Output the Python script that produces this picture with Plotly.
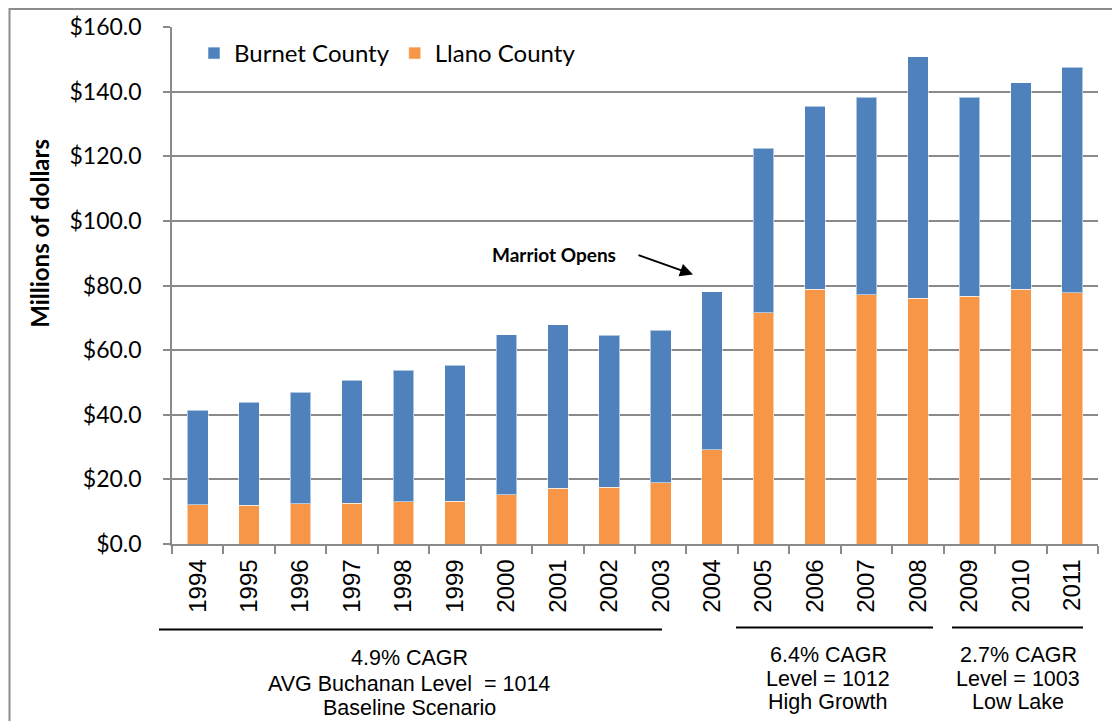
import plotly.graph_objects as go

# Annual values, millions of dollars
years = [str(y) for y in range(1994, 2012)]
llano = [12.2, 12.0, 12.4, 12.6, 13.0, 13.3, 15.2, 17.2, 17.5, 19.0,
         29.1, 71.5, 78.8, 77.2, 76.0, 76.6, 78.9, 77.7]
burnet = [29.2, 31.8, 34.5, 38.1, 40.7, 42.0, 49.5, 50.7, 47.1, 47.1,
          49.0, 50.9, 56.6, 61.0, 74.8, 61.6, 63.8, 69.9]

y_ticks = [0, 20, 40, 60, 80, 100, 120, 140, 160]

# Period notes below the axis: (first px, last px, centre px, line centres px, lines)
periods = [
    (159, 662, 409, [659, 685, 709],
     ["4.9% CAGR", "AVG Buchanan Level  = 1014", "Baseline Scenario"]),
    (736, 933, 828, [656, 680, 703],
     ["6.4% CAGR", "Level = 1012", "High Growth"]),
    (952, 1083, 1018, [656, 680, 703],
     ["2.7% CAGR", "Level = 1003", "Low Lake"]),
]

BLUE = "#4F81BD"
ORANGE = "#F79646"
GRID = "#8a8a8a"
CAL = "Lato, 'Open Sans', sans-serif"
ARIAL = "'Liberation Sans', Arial, sans-serif"

W, H = 1112, 721
L, R, T, B = 172, 14, 24, 177
PW, PH = W - L - R, H - T - B


def px(x):
    return (x - L) / PW


def py(y):
    return (H - B - y) / PH


fig = go.Figure()
fig.add_trace(go.Bar(x=years, y=llano, name="Llano County", marker_color=ORANGE,
                     marker_line=dict(color="rgba(255,255,255,0.55)", width=1),
                     legendrank=2))
fig.add_trace(go.Bar(x=years, y=burnet, name="Burnet County", marker_color=BLUE,
                     marker_line=dict(color="rgba(255,255,255,0.55)", width=1),
                     legendrank=1))

shapes = [
    # outer chart frame
    dict(type="rect", xref="paper", yref="paper",
         x0=px(9.5), x1=px(1120), y0=py(730), y1=py(6),
         line=dict(color="#8c8c8c", width=2), layer="below"),
]
annotations = [
    dict(text="<b>Millions of dollars</b>", textangle=-90, xref="paper", yref="paper",
         x=px(40), y=py(232), xanchor="center", yanchor="middle", showarrow=False,
         font=dict(family=CAL, size=24, color="black")),
    dict(text="<b>Marriot Opens</b>", xref="paper", yref="paper", x=px(554), y=py(253),
         xanchor="center", yanchor="middle", showarrow=False,
         font=dict(family=CAL, size=19, color="black")),
    dict(text="", xref="paper", yref="paper", x=px(693), y=py(273),
         ax=-56, ay=-20, showarrow=True, arrowhead=2, arrowsize=1.3, arrowwidth=2,
         arrowcolor="black"),
]
for x0, x1, xc, ys, lines in periods:
    yl = 630 if x0 < 300 else 628
    shapes.append(dict(type="line", xref="paper", yref="paper",
                       x0=px(x0), x1=px(x1), y0=py(yl), y1=py(yl),
                       line=dict(color="black", width=2)))
    for yc, line in zip(ys, lines):
        annotations.append(dict(text=line, xref="paper", yref="paper",
                                x=px(xc), y=py(yc), xanchor="center", yanchor="middle",
                                showarrow=False,
                                font=dict(family=ARIAL, size=21.5, color="black")))

fig.update_layout(
    width=W, height=H,
    margin=dict(l=L, r=R, t=T, b=B, pad=0),
    paper_bgcolor="white", plot_bgcolor="white",
    barmode="stack", bargap=0.6,
    showlegend=True,
    legend=dict(orientation="h", x=px(194), y=py(28), xanchor="left", yanchor="top",
                traceorder="normal",
                font=dict(family=CAL, size=24, color="black"),
                bgcolor="rgba(0,0,0,0)", itemwidth=30),
    shapes=shapes,
    annotations=annotations,
    xaxis=dict(type="category", tickangle=-90, tickson="boundaries",
               ticks="outside", ticklen=8, tickcolor=GRID, tickwidth=1.5,
               showline=True, linecolor=GRID, linewidth=1.5,
               showgrid=False, ticklabelstandoff=4,
               tickfont=dict(family=ARIAL, size=24, color="black")),
    yaxis=dict(range=[0, 160], tickvals=y_ticks, tickformat="$.1f",
               ticks="outside", ticklen=7, tickcolor=GRID, tickwidth=1.5,
               showline=True, linecolor=GRID, linewidth=1.5,
               showgrid=True, gridcolor=GRID, gridwidth=1.5, zeroline=False,
               ticklabelstandoff=17,
               tickfont=dict(family=CAL, size=23, color="black")),
)

fig.write_html("out.html")
